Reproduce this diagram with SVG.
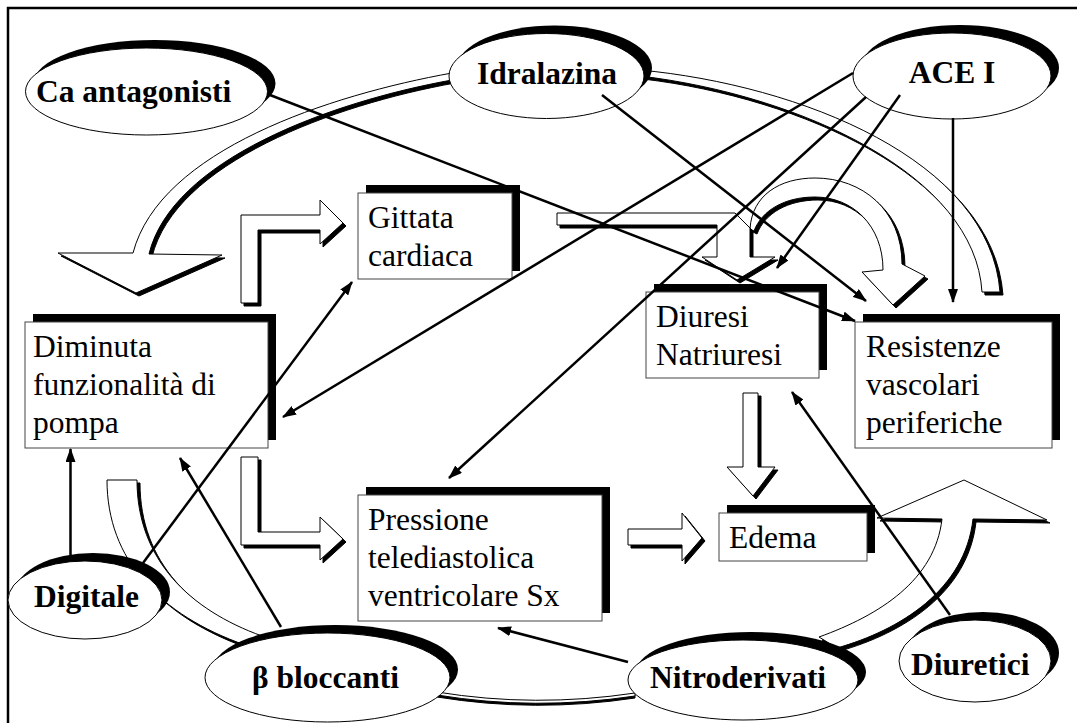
<svg xmlns="http://www.w3.org/2000/svg" xmlns:xlink="http://www.w3.org/1999/xlink" width="1077" height="723" viewBox="0 0 1077 723">
<style>
.frame{fill:none;stroke:#000;stroke-width:2.5}
.sh{fill:#000;stroke:none}
.el{fill:#fff;stroke:#000;stroke-width:1}
.bx{fill:#fff;stroke:#444;stroke-width:1}
.bshadow{fill:#000;stroke:#000;stroke-width:1}
.bfill{fill:#fff;stroke:#000;stroke-width:1;stroke-linejoin:miter}
.lbl{font-family:"Liberation Serif","Times New Roman",serif;font-weight:bold;font-size:31.5px;fill:#000}
.txt{font-family:"Liberation Serif","Times New Roman",serif;font-size:31.5px;fill:#000}
.con{fill:none;stroke:#000;stroke-width:2.5}
</style>
<defs>
<marker id="ah" markerUnits="userSpaceOnUse" markerWidth="14" markerHeight="10" refX="13" refY="5" orient="auto">
<path d="M0,0 L14,5 L0,10 z" fill="#000"/>
</marker>
<path id="bandA" d="M452,73 C330,95 160,150 133,253 L58,253 L136,293 L222,255 L149,254 C172,160 330,102 452,80 Z"/>
<path id="bandB" d="M640,70 C800,85 990,160 1000,292 L982,292 C975,175 800,95 640,76 Z"/>
<path id="bandG" d="M557,213 L735,213 L750,228 L750,257 L775,257 L737,280 L702,257 L717,257 L717,225 L557,225 Z"/>
<path id="bandU" d="M750,229 C752,195 780,178 815,178 C862,178 902,210 902,264 L925,276 L893,305 L862,272 L883,270 C883,225 852,197 815,197 C785,197 762,210 754,231 Z"/>
<path id="bandC" d="M241,303 L241,215 L320,215 L320,200 L343,223 L320,244 L320,230 L258,230 L258,303 Z"/>
<path id="bandD" d="M241,457 L258,457 L258,532 L320,532 L320,517 L343,539 L320,560 L320,545 L241,545 Z"/>
<path id="bandE" d="M628,529 L682,529 L682,513 L702,538 L682,561 L682,545 L628,545 Z"/>
<path id="bandF" d="M743,393 L758,393 L758,467 L775,467 L753,496 L727,467 L743,467 Z"/>
<path id="bandH" d="M107,480 L137,480 C137,560 190,610 262,636 L245,645 C160,615 107,560 107,480 Z"/>
<path id="bandI" d="M819,637 C880,615 935,580 942,519 L877,518 L964,480 L1047,520 L973,519 C965,590 900,630 837,648 Z"/>
<path id="bandJ" d="M437,692 Q535,708 635,693 L635,696 Q535,711 437,695 Z"/>
</defs>
<rect class="frame" x="8" y="8" width="1100" height="760"/>
<g id="block-arrows">
<use xlink:href="#bandA" class="bshadow" transform="translate(3,3)"/><use xlink:href="#bandA" class="bfill"/>
<use xlink:href="#bandB" class="bshadow" transform="translate(3,3)"/><use xlink:href="#bandB" class="bfill"/>
<use xlink:href="#bandU" class="bshadow" transform="translate(3,3)"/><use xlink:href="#bandU" class="bfill"/>
<use xlink:href="#bandG" class="bshadow" transform="translate(3,3)"/><use xlink:href="#bandG" class="bfill"/>
<use xlink:href="#bandC" class="bshadow" transform="translate(3,3)"/><use xlink:href="#bandC" class="bfill"/>
<use xlink:href="#bandD" class="bshadow" transform="translate(3,3)"/><use xlink:href="#bandD" class="bfill"/>
<use xlink:href="#bandE" class="bshadow" transform="translate(3,3)"/><use xlink:href="#bandE" class="bfill"/>
<use xlink:href="#bandF" class="bshadow" transform="translate(3,3)"/><use xlink:href="#bandF" class="bfill"/>
<use xlink:href="#bandH" class="bshadow" transform="translate(3,3)"/><use xlink:href="#bandH" class="bfill"/>
<use xlink:href="#bandI" class="bshadow" transform="translate(3,3)"/><use xlink:href="#bandI" class="bfill"/>
<use xlink:href="#bandJ" class="bshadow" transform="translate(0,2)"/><use xlink:href="#bandJ" class="bfill"/>
</g>
<g id="gittata">
<rect class="sh" x="366" y="185" width="154" height="86"/>
<rect class="bx" x="358" y="193" width="154" height="86"/>
<text class="txt" x="368" y="227.5">Gittata<tspan x="368" y="265.8">cardiaca</tspan></text>
</g>
<g id="diminuta">
<rect class="sh" x="33" y="314" width="243" height="126"/>
<rect class="bx" x="25" y="322" width="243" height="126"/>
<text class="txt" x="33" y="356.5">Diminuta<tspan x="33" y="394.8">funzionalità di</tspan><tspan x="33" y="433.1">pompa</tspan></text>
</g>
<g id="pressione">
<rect class="sh" x="366" y="487" width="244" height="126"/>
<rect class="bx" x="358" y="495" width="244" height="126"/>
<text class="txt" x="368" y="529.5">Pressione<tspan x="368" y="567.8">telediastolica</tspan><tspan x="368" y="606.1">ventricolare Sx</tspan></text>
</g>
<g id="diuresi">
<rect class="sh" x="654" y="284" width="173" height="86"/>
<rect class="bx" x="646" y="292" width="173" height="86"/>
<text class="txt" x="656" y="326.5">Diuresi<tspan x="656" y="364.8">Natriuresi</tspan></text>
</g>
<g id="resistenze">
<rect class="sh" x="863" y="314" width="197" height="126"/>
<rect class="bx" x="855" y="322" width="197" height="126"/>
<text class="txt" x="866" y="356.5">Resistenze<tspan x="866" y="394.8">vascolari</tspan><tspan x="866" y="433.1">periferiche</tspan></text>
</g>
<g id="edema">
<rect class="sh" x="727" y="505" width="148" height="48"/>
<rect class="bx" x="719" y="513" width="148" height="48"/>
<text class="txt" x="729" y="547.5">Edema</text>
</g>
<g id="ca-antagonisti">
<ellipse class="sh" cx="154.5" cy="83.5" rx="121" ry="43.5"/>
<ellipse class="el" cx="146.5" cy="91.5" rx="121" ry="43.5"/>
<text class="lbl" x="36" y="102">Ca antagonisti</text>
</g>
<g id="idralazina">
<ellipse class="sh" cx="554.5" cy="68" rx="97.5" ry="42.5"/>
<ellipse class="el" cx="546.5" cy="76" rx="97.5" ry="42.5"/>
<text class="lbl" x="547" y="84" text-anchor="middle">Idralazina</text>
</g>
<g id="ace-i">
<ellipse class="sh" cx="960" cy="68" rx="99" ry="43"/>
<ellipse class="el" cx="952" cy="76" rx="99" ry="43"/>
<text class="lbl" x="952" y="83" text-anchor="middle">ACE I</text>
</g>
<g id="digitale">
<ellipse class="sh" cx="93" cy="592" rx="77" ry="39"/>
<ellipse class="el" cx="85" cy="600" rx="77" ry="39"/>
<text class="lbl" x="34" y="607">Digitale</text>
</g>
<g id="beta-bloccanti">
<ellipse class="sh" cx="335.5" cy="669.5" rx="122.5" ry="44.5"/>
<ellipse class="el" cx="327.5" cy="677.5" rx="122.5" ry="44.5"/>
<text class="lbl" x="252" y="688">β bloccanti</text>
</g>
<g id="nitroderivati">
<ellipse class="sh" cx="751" cy="672" rx="115" ry="40"/>
<ellipse class="el" cx="743" cy="680" rx="115" ry="40"/>
<text class="lbl" x="650" y="688">Nitroderivati</text>
</g>
<g id="diuretici">
<ellipse class="sh" cx="983" cy="653" rx="76" ry="41"/>
<ellipse class="el" cx="975" cy="661" rx="76" ry="41"/>
<text class="lbl" x="911" y="675">Diuretici</text>
</g>
<g id="connectors">
<line class="con" x1="270" y1="95" x2="855" y2="321" marker-end="url(#ah)"/>
<line class="con" x1="602" y1="95" x2="866" y2="301" marker-end="url(#ah)"/>
<line class="con" x1="853" y1="73" x2="283" y2="417" marker-end="url(#ah)"/>
<line class="con" x1="866" y1="97" x2="449" y2="478" marker-end="url(#ah)"/>
<line class="con" x1="900" y1="95" x2="777" y2="268" marker-end="url(#ah)"/>
<line class="con" x1="953" y1="118" x2="953" y2="302" marker-end="url(#ah)"/>
<line class="con" x1="70.5" y1="555" x2="70.5" y2="449" marker-end="url(#ah)"/>
<line class="con" x1="143" y1="563" x2="352" y2="282" marker-end="url(#ah)"/>
<line class="con" x1="281" y1="627" x2="180" y2="458" marker-end="url(#ah)"/>
<line class="con" x1="628" y1="662" x2="498" y2="628" marker-end="url(#ah)"/>
<line class="con" x1="950" y1="615" x2="792" y2="392" marker-end="url(#ah)"/>
</g>
</svg>
